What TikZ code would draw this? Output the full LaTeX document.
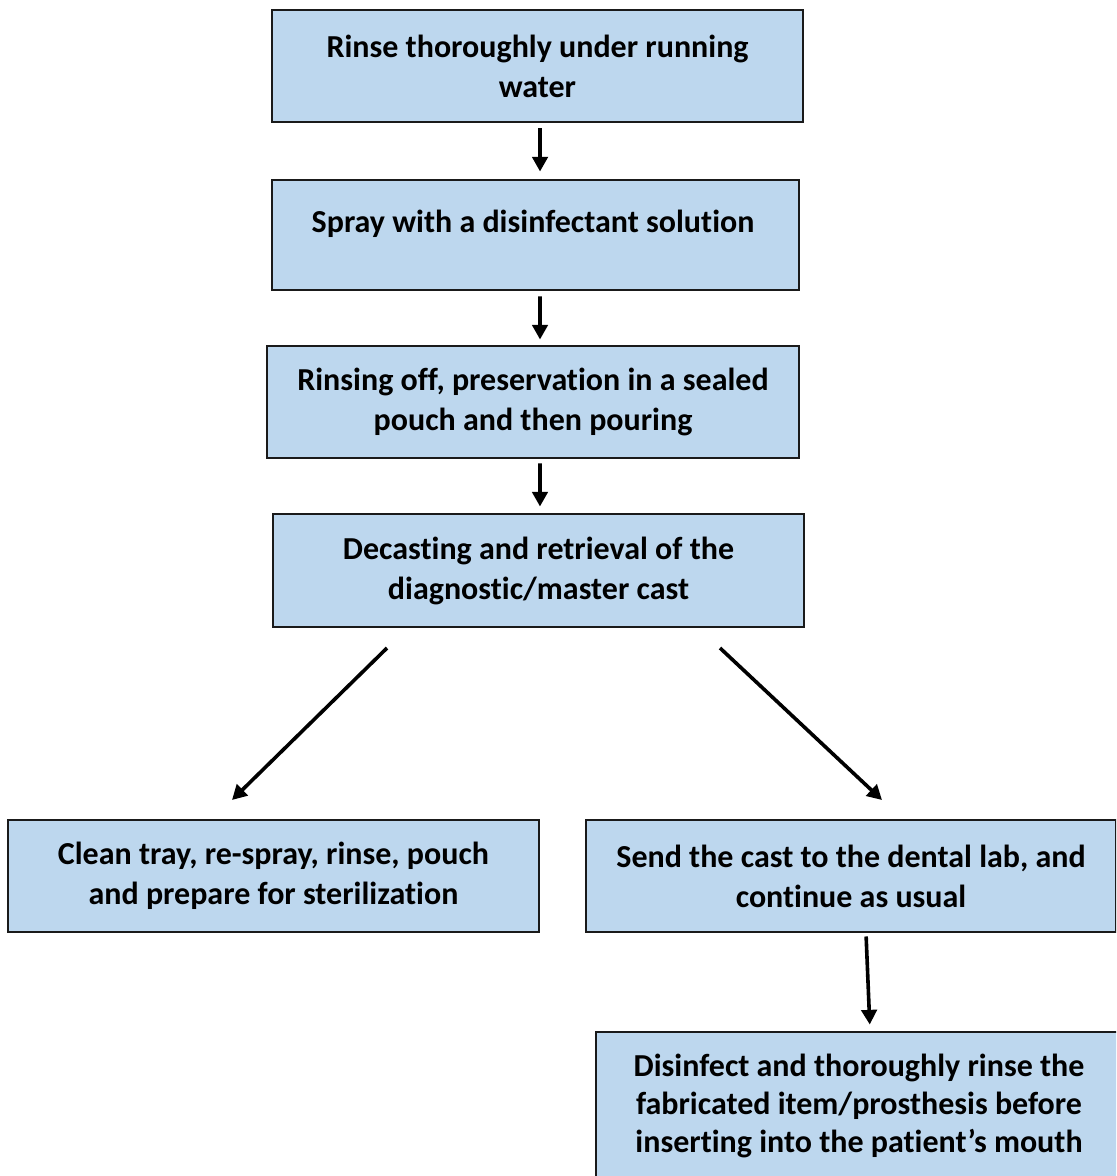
\documentclass[tikz,border=0pt]{standalone}
\usepackage{fontspec}
\setmainfont{Carlito}[Ligatures=NoCommon]
\usetikzlibrary{arrows.meta,calc}
\definecolor{boxfill}{HTML}{BDD7EE}
\definecolor{boxline}{HTML}{1A1A1A}
\tikzset{
  flowbox/.style={draw=boxline, fill=boxfill, line width=2.2pt, rectangle,
    align=center, font=\fontsize{24pt}{30pt}\selectfont\bfseries, inner sep=0pt},
  flowtext/.style={align=center, font=\fontsize{24pt}{30pt}\selectfont\bfseries, inner sep=0pt},
  flowarrow/.style={line width=2.7pt, -{Triangle[width=11.5pt,length=11pt]}}
}
\begin{document}
\begin{tikzpicture}[x=0.75pt,y=-0.75pt]
\useasboundingbox (0,0) rectangle (1116,1176);
\clip (0,0) rectangle (1116,1176);
\node[flowbox, minimum width=398.25pt, minimum height=84pt] (b1) at (537.5,66)
  {Rinse thoroughly under running\\ water};
\node[flowbox, minimum width=395.25pt, minimum height=82.5pt] (b2) at (535.5,235) {};
\node[flowtext] (t2) at (533,224) {Spray with a disinfectant solution};
\node[flowbox, minimum width=399pt, minimum height=84pt] (b3) at (533,402)
  {Rinsing off, preservation in a sealed\\ pouch and then pouring};
\node[flowbox, minimum width=398.25pt, minimum height=84.75pt] (b4) at (538.5,570.5)
  {Decasting and retrieval of the\\ diagnostic/master cast};
\node[flowbox, minimum width=398.25pt, minimum height=84pt] (b5) at (273.5,876)
  {Clean tray, re-spray, rinse, pouch\\ and prepare for sterilization};
\node[flowbox, minimum width=397.5pt, minimum height=84pt] (b6) at (851,876)
  {Send the cast to the dental lab, and\\ continue as usual};
\node[flowbox, minimum width=394.5pt, minimum height=111pt, font=\fontsize{24pt}{28.5pt}\selectfont\bfseries] (b7) at (859,1106)
  {Disinfect and thoroughly rinse the\\ fabricated item/prosthesis before\\ inserting into the patient’s mouth};
\draw[flowarrow, shorten <=3.75pt, shorten >=5.25pt] ([xshift=1.9pt]b1.south) -- ([xshift=3.4pt]b2.north);
\draw[flowarrow, shorten <=3.75pt, shorten >=3.75pt] ([xshift=3.4pt]b2.south) -- ([xshift=5.25pt]b3.north);
\draw[flowarrow, shorten <=3pt, shorten >=4.5pt] ([xshift=5.25pt]b3.south) -- ([xshift=1.1pt]b4.north);
\coordinate (d1s) at (387,648);
\coordinate (d1e) at (232,800);
\coordinate (d2s) at (720,648);
\coordinate (d2e) at (882,800);
\draw[flowarrow] (d1s) -- (d1e);
\draw[flowarrow] (d2s) -- (d2e);
\draw[flowarrow, shorten <=2.25pt, shorten >=4.5pt] ([xshift=11.25pt]b6.south) -- ([xshift=8.25pt]b7.north);
\end{tikzpicture}
\end{document}
